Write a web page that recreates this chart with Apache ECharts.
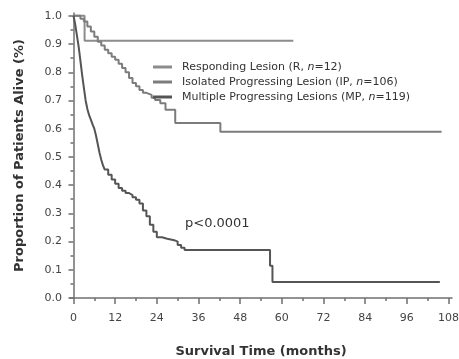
<!DOCTYPE html>
<html>
<head>
<meta charset="utf-8">
<script src="https://cdn.jsdelivr.net/npm/echarts@6/dist/echarts.min.js"></script>
<style>
html,body{margin:0;padding:0;background:#fff;}
#chart{width:459px;height:359px;}
</style>
</head>
<body>
<div id="chart"></div>
<script>
// Tick labels
var xTickValues = [0, 12, 24, 36, 48, 60, 72, 84, 96, 108];
var xMinorTickValues = [6, 18, 30, 42, 54, 66, 78, 90, 102];
var yTickValues = [0, 0.1, 0.2, 0.3, 0.4, 0.5, 0.6, 0.7, 0.8, 0.9, 1.0];
var yMinorTickValues = [0.05, 0.15, 0.25, 0.35, 0.45, 0.55, 0.65, 0.75, 0.85, 0.95];

// Series names
var seriesNames = [
  'Responding Lesion (R, n=12)',
  'Isolated Progressing Lesion (IP, n=106)',
  'Multiple Progressing Lesions (MP, n=119)'
];

// Kaplan-Meier curves: [month, survival proportion]
var respondingData = [[0, 1.0], [3.2, 0.912], [63.3, 0.912]];

var isolatedData = [
  [0, 1.0], [2, 0.99], [3, 0.98], [4, 0.962], [5, 0.944], [6, 0.926], [7, 0.908],
  [8, 0.895], [9, 0.88], [10, 0.867], [11, 0.855], [12, 0.844], [13, 0.83],
  [14, 0.815], [15, 0.8], [16, 0.78], [17, 0.762], [18, 0.75], [19, 0.737],
  [20, 0.727], [21, 0.72], [22.5, 0.71], [23.5, 0.702], [25, 0.69], [26.5, 0.667],
  [29.3, 0.62], [42.3, 0.589], [106, 0.589]
];

var multipleData = [
  [0, 1.0], [0.5, 0.97], [1, 0.93], [1.5, 0.89], [2, 0.84], [2.5, 0.79], [3, 0.745],
  [3.5, 0.70], [4, 0.67], [4.5, 0.648], [5, 0.632], [5.5, 0.615], [6, 0.60],
  [6.5, 0.575], [7, 0.545], [7.5, 0.515], [8, 0.49], [8.5, 0.47], [9, 0.455],
  [10, 0.437], [11, 0.42], [12, 0.405], [13, 0.39], [14, 0.38], [15, 0.372],
  [16, 0.365], [17, 0.357], [18, 0.348], [19, 0.335], [20, 0.31], [21, 0.29],
  [22, 0.26], [23, 0.235], [24, 0.215], [25.5, 0.21], [27, 0.205], [29, 0.2],
  [30, 0.188], [31, 0.178], [32, 0.17], [56.6, 0.114], [57.3, 0.057], [105.5, 0.057]
];

var pValueText = 'p<0.0001';

var FONT = 'DejaVu Sans';
var TEXT = '#333333';
var chart = echarts.init(document.getElementById('chart'), null, {renderer: 'canvas'});

var axisLineStyle = {color: '#6f6f6f', width: 1.5};

var option = {
  backgroundColor: '#ffffff',
  animation: false,
  textStyle: {fontFamily: FONT},
  grid: {left: 70, right: 7, top: 13, bottom: 61, containLabel: false, outerBoundsMode: 'none'},
  legend: {
    orient: 'vertical',
    left: 153,
    top: 61,
    padding: 0,
    itemWidth: 19,
    itemHeight: 3,
    itemGap: 3,
    icon: 'rect',
    data: seriesNames,
    textStyle: {
      fontFamily: FONT, fontSize: 11, color: TEXT,
      lineHeight: 12, padding: [0, 0, 0, 5],
      rich: {i: {fontStyle: 'italic', fontFamily: FONT, fontSize: 11, color: TEXT}}
    },
    formatter: function (name) { return name.replace(', n=', ', {i|n}='); }
  },
  xAxis: [{
    type: 'value', min: -1, max: 109,
    name: 'Survival Time (months)', nameLocation: 'middle', nameGap: 47,
    nameTextStyle: {fontFamily: FONT, fontSize: 13, fontWeight: 'bold', color: TEXT},
    axisLine: {show: true, lineStyle: axisLineStyle},
    axisTick: {show: true, length: 6, customValues: xTickValues, lineStyle: axisLineStyle},
    axisLabel: {customValues: xTickValues, margin: 15, fontFamily: FONT, fontSize: 11, color: '#444444'},
    splitLine: {show: false}
  }, {
    type: 'value', min: -1, max: 109, position: 'bottom',
    axisLine: {show: false},
    axisTick: {show: true, length: 3, customValues: xMinorTickValues, lineStyle: axisLineStyle},
    axisLabel: {show: false},
    splitLine: {show: false}
  }],
  yAxis: [{
    type: 'value', min: 0, max: 1.01,
    name: 'Proportion of Patients Alive (%)', nameLocation: 'middle', nameGap: 44,
    nameTextStyle: {fontFamily: FONT, fontSize: 13, fontWeight: 'bold', color: TEXT},
    axisLine: {show: true, lineStyle: axisLineStyle},
    axisTick: {show: true, length: 5, customValues: yTickValues, lineStyle: axisLineStyle},
    axisLabel: {customValues: yTickValues, margin: 8, fontFamily: FONT, fontSize: 11, color: '#444444',
      formatter: function (v) { return v.toFixed(1); }},
    splitLine: {show: false}
  }, {
    type: 'value', min: 0, max: 1.01, position: 'left',
    axisLine: {show: false},
    axisTick: {show: true, length: 3, customValues: yMinorTickValues, lineStyle: axisLineStyle},
    axisLabel: {show: false},
    splitLine: {show: false}
  }],
  series: [{
    name: seriesNames[0], type: 'line', step: 'end', data: respondingData,
    showSymbol: false, color: '#8c8c8c', lineStyle: {width: 2, color: '#8c8c8c'}
  }, {
    name: seriesNames[1], type: 'line', step: 'end', data: isolatedData,
    showSymbol: false, color: '#7c7c7c', lineStyle: {width: 2, color: '#7c7c7c'}
  }, {
    name: seriesNames[2], type: 'line', step: 'end', data: multipleData,
    showSymbol: false, color: '#555555', lineStyle: {width: 2, color: '#555555'}
  }],
  graphic: [{
    type: 'text', left: 185, top: 217,
    style: {text: pValueText, fontFamily: FONT, fontSize: 13, fill: TEXT}
  }]
};
chart.setOption(option);
</script>
</body>
</html>
